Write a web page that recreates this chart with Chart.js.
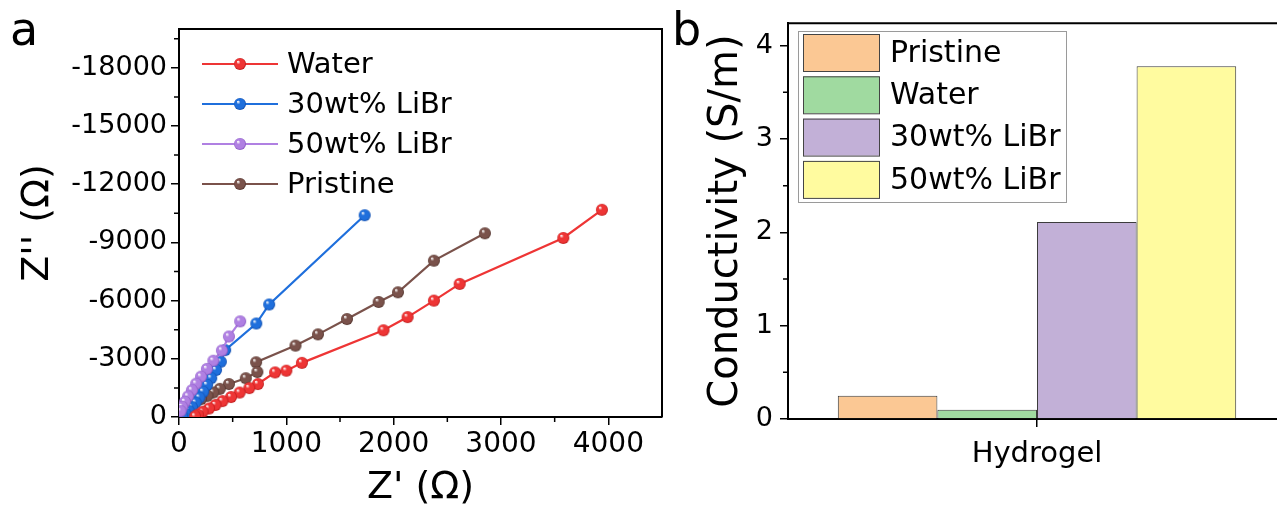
<!DOCTYPE html>
<html>
<head>
<meta charset="utf-8">
<script src="https://cdn.jsdelivr.net/npm/chart.js@4.4.1/dist/chart.umd.min.js"></script>
<style>
  html, body { margin: 0; padding: 0; background: #fff; overflow: hidden; width: 1277px; height: 511px; }
  #wrapA { position: absolute; left: 0; top: 0; width: 680px; height: 511px; }
  #wrapB { position: absolute; left: 660px; top: 0; width: 630px; height: 511px; }
</style>
</head>
<body>
<div id="wrapA"><canvas id="nyquist" width="680" height="511"></canvas></div>
<div id="wrapB"><canvas id="cond" width="630" height="511"></canvas></div>
<script>
// ---- panel a: Nyquist plot (Z'' plotted as negative values) ----
const seriesNames = ['Water', '30wt% LiBr', '50wt% LiBr', 'Pristine'];

const waterZre = [3940, 3580, 2615, 2375, 2130, 1905, 1145, 1000, 895, 735, 655, 565, 485, 405, 340, 280, 220, 175, 150];
const waterZim = [-10680, -9230, -6860, -6000, -5150, -4470, -2790, -2390, -2300, -1700, -1490, -1260, -1030, -820, -620, -440, -270, -120, -30];

const libr30Zre = [1730, 840, 720, 430, 390, 345, 300, 262, 225, 190, 155, 120, 90, 60, 30];
const libr30Zim = [-10400, -5800, -4820, -3450, -2850, -2420, -2000, -1650, -1300, -1000, -740, -500, -320, -160, -50];

const libr50Zre = [570, 465, 400, 320, 260, 205, 160, 120, 85, 55, 30, 15];
const libr50Zim = [-4930, -4150, -3430, -2900, -2480, -2080, -1720, -1380, -1060, -780, -520, -300];

const pristineZre = [2850, 2375, 2040, 1860, 1565, 1295, 1085, 718, 730, 622, 465, 380, 320, 265, 205, 145, 90, 45, 15];
const pristineZim = [-9470, -8060, -6430, -5930, -5050, -4260, -3680, -2820, -2320, -2000, -1700, -1450, -1260, -1090, -920, -750, -550, -350, -150];

const zreTicks = [0, 1000, 2000, 3000, 4000];
const zreMinor = [500, 1500, 2500, 3500];
const zimTicks = [0, -3000, -6000, -9000, -12000, -15000, -18000];
const zimMinor = [-1500, -4500, -7500, -10500, -13500, -16500, -19500];

// ---- panel b: conductivity bars ----
const groups = ['Hydrogel'];
const barNames = ['Pristine', 'Water', '30wt% LiBr', '50wt% LiBr'];
const conductivity = [0.25, 0.10, 2.11, 3.78];
const condTicks = [0, 1, 2, 3, 4];
const condMinor = [0.5, 1.5, 2.5, 3.5];

const lineColors = ['#ee3535', '#1f6fdc', '#b080e2', '#7a524b'];
const darkColors = ['#b81515', '#0f4aa8', '#8554c0', '#4e3029'];
const barColors = ['#fbc894', '#a0daa0', '#c2b0d7', '#fffb9f'];
const FONT = 'DejaVu Sans';

// shaded ball used as marker
function sphere(color, dark, r) {
    const c = document.createElement('canvas');
    const s = Math.ceil(r * 2) + 2;
    c.width = s; c.height = s;
    const g = c.getContext('2d');
    const grad = g.createRadialGradient(s / 2 - r * 0.35, s / 2 - r * 0.4, r * 0.05, s / 2, s / 2, r);
    grad.addColorStop(0, '#ffffff');
    grad.addColorStop(0.3, color);
    grad.addColorStop(0.8, color);
    grad.addColorStop(1, dark);
    g.fillStyle = grad;
    g.beginPath();
    g.arc(s / 2, s / 2, r, 0, Math.PI * 2);
    g.fill();
    return c;
}

const balls = lineColors.map((c, i) => sphere(c, darkColors[i], 6));
const zre = [waterZre, libr30Zre, libr50Zre, pristineZre];
const zim = [waterZim, libr30Zim, libr50Zim, pristineZim];
const drawOrder = [0, 2, 1, 3];

// top/right frame, minor ticks and panel letter
const framePlugin = {
    id: 'frame',
    afterDraw(chart, args, opts) {
        const { ctx, chartArea: a, scales } = chart;
        ctx.save();
        ctx.strokeStyle = '#000';
        ctx.lineWidth = 2;
        ctx.beginPath();
        ctx.moveTo(a.left, a.top);
        ctx.lineTo(a.right, a.top);
        ctx.lineTo(a.right, a.bottom);
        ctx.stroke();
        ctx.lineWidth = 1.5;
        ctx.beginPath();
        (opts.xMinor || []).forEach(v => {
            const x = scales.x.getPixelForValue(v);
            ctx.moveTo(x, a.bottom); ctx.lineTo(x, a.bottom + 5);
        });
        (opts.yMinor || []).forEach(v => {
            const y = scales.y.getPixelForValue(v);
            ctx.moveTo(a.left, y); ctx.lineTo(a.left - 5, y);
        });
        ctx.stroke();
        ctx.fillStyle = '#000';
        ctx.font = '46px "' + FONT + '"';
        ctx.textBaseline = 'alphabetic';
        ctx.textAlign = 'left';
        ctx.fillText(opts.letter, opts.letterX, 45);
        ctx.restore();
    }
};

const lineLegend = {
    id: 'lineLegend',
    afterDraw(chart) {
        const ctx = chart.ctx;
        ctx.save();
        ctx.font = '29px "' + FONT + '"';
        ctx.textBaseline = 'middle';
        ctx.fillStyle = '#000';
        seriesNames.forEach((name, i) => {
            const y = 64 + i * 40;
            ctx.strokeStyle = lineColors[i];
            ctx.lineWidth = 2.2;
            ctx.beginPath();
            ctx.moveTo(202, y); ctx.lineTo(278, y);
            ctx.stroke();
            ctx.drawImage(balls[i], 240 - balls[i].width / 2, y - balls[i].height / 2);
            ctx.fillText(name, 287, y + 1);
        });
        ctx.restore();
    }
};

const boxLegend = {
    id: 'boxLegend',
    afterDraw(chart) {
        const ctx = chart.ctx;
        const ox = 138;
        ctx.save();
        ctx.fillStyle = '#fff';
        ctx.strokeStyle = '#9a9a9a';
        ctx.lineWidth = 1;
        ctx.fillRect(ox, 31, 268, 171);
        ctx.strokeRect(ox + 0.5, 31.5, 268, 171);
        ctx.font = '30px "' + FONT + '"';
        ctx.textBaseline = 'middle';
        barNames.forEach((name, i) => {
            const top = 34 + i * 42.3;
            ctx.fillStyle = barColors[i];
            ctx.fillRect(ox + 5, top, 76, 37);
            ctx.strokeStyle = '#444';
            ctx.strokeRect(ox + 5.5, top + 0.5, 76, 37);
            ctx.fillStyle = '#000';
            ctx.fillText(name, ox + 92, top + 20);
        });
        ctx.restore();
    }
};

const axisLine = { color: '#000', width: 2 };
const tickGrid = { drawOnChartArea: false, tickLength: 8, color: '#000', lineWidth: 1.5 };

new Chart(document.getElementById('nyquist'), {
    type: 'scatter',
    data: {
        datasets: seriesNames.map((name, i) => ({
            label: name,
            data: zre[i].map((x, k) => ({ x: x, y: zim[i][k] })),
            showLine: true,
            borderColor: lineColors[i],
            borderWidth: 2.2,
            pointStyle: balls[i],
            pointRadius: 6,
            order: drawOrder[i]
        }))
    },
    options: {
        responsive: false,
        animation: false,
        devicePixelRatio: 1,
        layout: { padding: { top: 29, right: 18, left: 0, bottom: 0 } },
        plugins: {
            legend: { display: false },
            tooltip: { enabled: false },
            frame: { xMinor: zreMinor, yMinor: zimMinor, letter: 'a', letterX: 10 }
        },
        scales: {
            x: {
                type: 'linear', min: 0, max: 4500,
                afterBuildTicks: ax => { ax.ticks = zreTicks.map(v => ({ value: v })); },
                afterFit: s => { s.height = 94; },
                grid: tickGrid,
                border: axisLine,
                ticks: { color: '#000', font: { family: FONT, size: 28 }, padding: 3, maxRotation: 0, callback: v => String(v) },
                title: { display: true, text: "Z' (Ω)", color: '#000', font: { family: FONT, size: 38 }, padding: 0 }
            },
            y: {
                type: 'linear', min: -20000, max: 0, reverse: true,
                afterBuildTicks: ax => { ax.ticks = zimTicks.map(v => ({ value: v })); },
                afterFit: s => { s.width = 179; },
                grid: tickGrid,
                border: axisLine,
                ticks: { color: '#000', font: { family: FONT, size: 27 }, padding: 4, callback: v => String(v) },
                title: { display: true, text: "Z'' (Ω)", color: '#000', font: { family: FONT, size: 38 }, padding: { top: 15, bottom: 0 } }
            }
        }
    },
    plugins: [framePlugin, lineLegend]
});

new Chart(document.getElementById('cond'), {
    type: 'bar',
    data: {
        labels: groups,
        datasets: barNames.map((name, i) => ({
            label: name,
            data: [conductivity[i]],
            backgroundColor: barColors[i],
            borderColor: '#3c3c3c',
            borderWidth: 1
        }))
    },
    options: {
        responsive: false,
        animation: false,
        devicePixelRatio: 1,
        layout: { padding: { top: 21, right: 4, left: 0, bottom: 0 } },
        datasets: { bar: { categoryPercentage: 0.8, barPercentage: 1 } },
        plugins: {
            legend: { display: false },
            tooltip: { enabled: false },
            frame: { xMinor: [], yMinor: condMinor, letter: 'b', letterX: 12 }
        },
        scales: {
            x: {
                afterFit: s => { s.height = 92; },
                grid: Object.assign({}, tickGrid, { offset: false }),
                border: axisLine,
                ticks: { color: '#000', font: { family: FONT, size: 29 }, padding: 10 }
            },
            y: {
                min: 0, max: 4.24,
                afterBuildTicks: ax => { ax.ticks = condTicks.map(v => ({ value: v })); },
                afterFit: s => { s.width = 128; },
                grid: tickGrid,
                border: axisLine,
                ticks: { color: '#000', font: { family: FONT, size: 27 }, padding: 7, callback: v => String(v) },
                title: { display: true, text: 'Conductivity (S/m)', color: '#000', font: { family: FONT, size: 40 }, padding: { top: 43, bottom: 0 } }
            }
        }
    },
    plugins: [framePlugin, boxLegend]
});
</script>
</body>
</html>
